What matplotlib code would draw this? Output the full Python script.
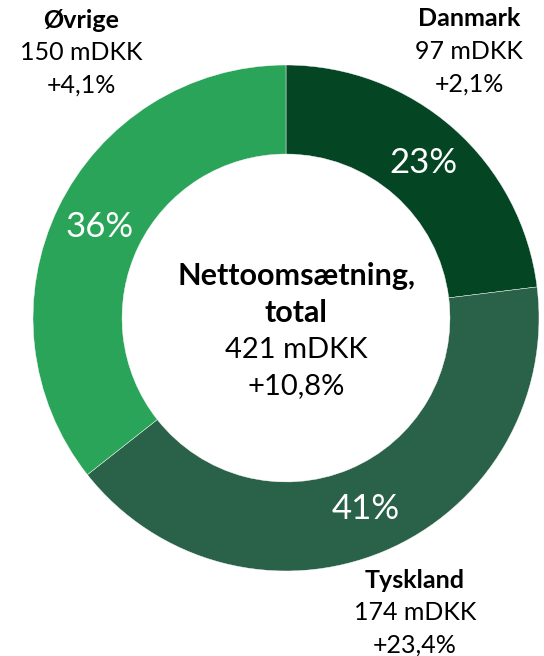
import matplotlib.pyplot as plt

# Nettoomsætning pr. marked (mDKK)
markets = ['Danmark', 'Tyskland', 'Øvrige']
values = [97, 174, 150]
growth = ['+2,1%', '+23,4%', '+4,1%']
colors = ['#044623', '#2a6249', '#2aa458']

total = sum(values)
total_growth = '+10,8%'

plt.rcParams['font.family'] = ['Lato', 'DejaVu Sans']

W, H = 544, 656
fig = plt.figure(figsize=(W / 100, H / 100), dpi=100)

# donut: center (286, 318) px, outer radius 253 px
cx, cy, r = 286, 318, 253
ax = fig.add_axes([(cx - r) / W, (H - cy - r) / H, 2 * r / W, 2 * r / H])
wedges, texts, pcts = ax.pie(values, colors=colors, startangle=90, counterclock=False,
                             radius=1.0, autopct='%.0f%%', pctdistance=0.82,
                             wedgeprops=dict(width=0.352, edgecolor='white', linewidth=0.3),
                             textprops=dict(color='white', fontsize=25))
ax.set_xlim(-1, 1)
ax.set_ylim(-1, 1)
ax.set_aspect('equal')
ax.axis('off')


def px(x, y):
    return x / W, 1 - y / H


# labels for each market: (x, y of first line)
label_pos = {'Danmark': (469, 19), 'Tyskland': (415, 580), 'Øvrige': (81, 20)}
for name, val, g in zip(markets, values, growth):
    x, y = label_pos[name]
    fig.text(*px(x, y), name, ha='center', va='center', fontsize=18, fontweight='bold')
    fig.text(*px(x, y + 32.5), f'{val} mDKK', ha='center', va='center', fontsize=18)
    fig.text(*px(x, y + 65), g, ha='center', va='center', fontsize=18)

# center text
fig.text(*px(296, 276), 'Nettoomsætning,', ha='center', va='center', fontsize=22, fontweight='bold')
fig.text(*px(296, 313), 'total', ha='center', va='center', fontsize=22, fontweight='bold')
fig.text(*px(296, 350), f'{total} mDKK', ha='center', va='center', fontsize=21)
fig.text(*px(296, 386), total_growth, ha='center', va='center', fontsize=21)

fig.savefig('out.png', dpi=100)
